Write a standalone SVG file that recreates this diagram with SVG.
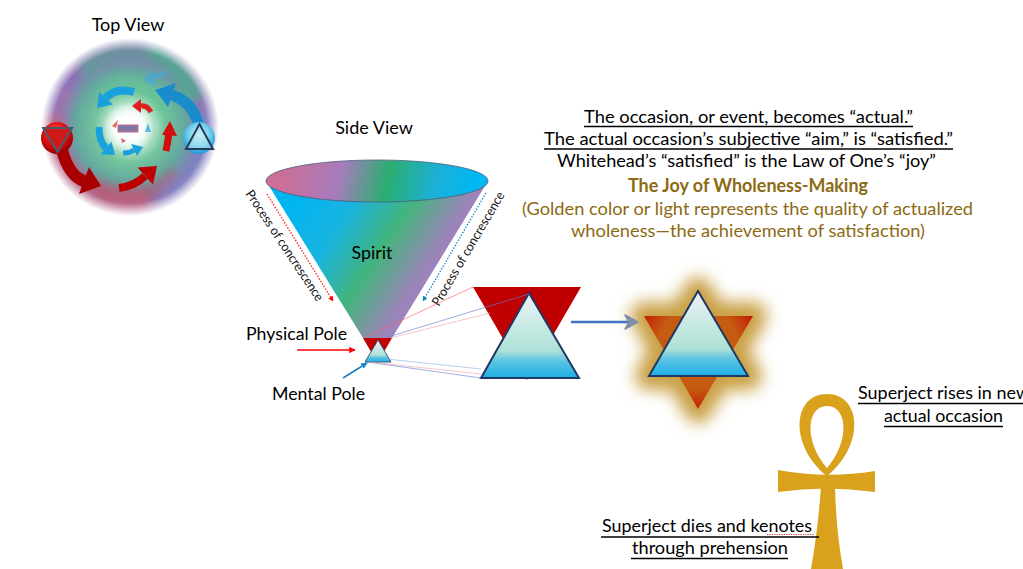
<svg xmlns="http://www.w3.org/2000/svg" width="1023" height="569" viewBox="0 0 1023 569">
<style>
.t{font-family:Lato,"Open Sans","Liberation Sans",sans-serif;font-size:18px;fill:#000}
.c{text-anchor:middle}
.g{fill:#8C6A12}
.ul{stroke:#000;stroke-width:1.4}
.pc{font-family:Lato,"Open Sans","Liberation Sans",sans-serif;font-size:13px;fill:#111;text-anchor:middle}
.bl{fill:#1a8ccc}
.rd{fill:#a80000}
</style>
<defs>
<radialGradient id="disk" cx="0.5" cy="0.5" r="0.5">
<stop offset="0" stop-color="#ffffff"/>
<stop offset="0.18" stop-color="#d8f4e4"/>
<stop offset="0.4" stop-color="#72c49c"/>
<stop offset="0.62" stop-color="#64a8a0"/>
<stop offset="0.82" stop-color="#8a76b4"/>
<stop offset="1" stop-color="#a48fc6"/>
</radialGradient>
<radialGradient id="mgrad" cx="0.5" cy="0.5" r="0.5">
<stop offset="0" stop-color="#fff"/>
<stop offset="0.86" stop-color="#fff"/>
<stop offset="1" stop-color="#000"/>
</radialGradient>
<mask id="dm" maskUnits="userSpaceOnUse" x="30" y="27" width="200" height="200"><circle cx="130" cy="127" r="89" fill="url(#mgrad)"/></mask>
<radialGradient id="glowc" cx="0.5" cy="0.5" r="0.5">
<stop offset="0" stop-color="#fff"/>
<stop offset="0.45" stop-color="#fff" stop-opacity="0.95"/>
<stop offset="1" stop-color="#fff" stop-opacity="0"/>
</radialGradient>
<radialGradient id="redball" cx="0.45" cy="0.35" r="0.6">
<stop offset="0" stop-color="#ff6060"/>
<stop offset="0.6" stop-color="#e01010"/>
<stop offset="1" stop-color="#a00000"/>
</radialGradient>
<radialGradient id="blueball" cx="0.5" cy="0.4" r="0.6">
<stop offset="0" stop-color="#d8f6fa"/>
<stop offset="0.6" stop-color="#6ccbea"/>
<stop offset="1" stop-color="#1a9ad8"/>
</radialGradient>
<linearGradient id="cone" gradientUnits="userSpaceOnUse" x1="290" y1="205" x2="445" y2="305">
<stop offset="0" stop-color="#00b4f2"/>
<stop offset="0.28" stop-color="#18b4e0"/>
<stop offset="0.55" stop-color="#44b47c"/>
<stop offset="0.8" stop-color="#9a84b8"/>
<stop offset="1" stop-color="#a884cc"/>
</linearGradient>
<linearGradient id="top" gradientUnits="userSpaceOnUse" x1="285" y1="160" x2="470" y2="205">
<stop offset="0" stop-color="#cc6e96"/>
<stop offset="0.3" stop-color="#a67cbc"/>
<stop offset="0.55" stop-color="#2aae70"/>
<stop offset="0.8" stop-color="#1cb0d8"/>
<stop offset="1" stop-color="#00b8f2"/>
</linearGradient>
<linearGradient id="tri" x1="0" y1="0" x2="0" y2="1">
<stop offset="0" stop-color="#eef2fa"/>
<stop offset="0.45" stop-color="#c2e8e0"/>
<stop offset="0.68" stop-color="#aee2d8"/>
<stop offset="0.8" stop-color="#5cc4e2"/>
<stop offset="1" stop-color="#1eb0e6"/>
</linearGradient>
<radialGradient id="starred" gradientUnits="userSpaceOnUse" cx="698" cy="348" r="68">
<stop offset="0" stop-color="#c86010"/>
<stop offset="0.6" stop-color="#c55a11"/>
<stop offset="0.85" stop-color="#c42a08"/>
<stop offset="1" stop-color="#c00000"/>
</radialGradient>
<filter id="blur8" x="-50%" y="-50%" width="200%" height="200%"><feGaussianBlur stdDeviation="8"/></filter>
<filter id="blur4" x="-50%" y="-50%" width="200%" height="200%"><feGaussianBlur stdDeviation="4"/></filter>
<marker id="ar" viewBox="0 0 10 10" refX="9" refY="5" markerWidth="4" markerHeight="4" orient="auto"><path d="M0,0 L10,5 L0,10 Z" fill="#ff0000"/></marker>
<marker id="ab" viewBox="0 0 10 10" refX="9" refY="5" markerWidth="4" markerHeight="4" orient="auto"><path d="M0,0 L10,5 L0,10 Z" fill="#1a88c8"/></marker>
</defs>
<rect width="1023" height="569" fill="#fff"/>

<g id="top-view">
<text class="t c" x="128" y="31">Top View</text>
<g mask="url(#dm)">
<circle cx="130" cy="127" r="89" fill="url(#disk)"/>
<g filter="url(#blur4)" fill="none">
<path d="M52,115 A78,78 0 0,0 150,202" stroke="#d06070" stroke-width="26" opacity="0.6"/>
<path d="M92,182 A62,62 0 0,0 176,172" stroke="#c04a5a" stroke-width="14" opacity="0.45"/>
<path d="M80,70 A66,66 0 0,1 194,100" stroke="#3cbc84" stroke-width="18" opacity="0.65"/>
<path d="M202,112 A74,74 0 0,1 165,194" stroke="#7090d0" stroke-width="16" opacity="0.5"/>
<path d="M58,88 A78,78 0 0,1 150,48" stroke="#8a64b0" stroke-width="14" opacity="0.55"/>
<path d="M100,95 A38,38 0 0,1 165,115" stroke="#60c890" stroke-width="12" opacity="0.45"/>
<path d="M60,140 A72,72 0 0,1 70,90" stroke="#b070a8" stroke-width="14" opacity="0.45"/>
</g>
</g>
<circle cx="128" cy="128" r="26" fill="url(#glowc)"/>
<rect x="118" y="125" width="20" height="7" fill="#7f78a8" stroke="#c86a8a" stroke-width="1"/>
<!-- blue arrows -->
<path d="M199,126 Q193,102 172,95" fill="none" stroke="#1a8ccc" stroke-width="11"/>
<polygon class="bl" points="176,83 168,107 155,90"/>
<path d="M166,73 L153,77" stroke="#4aa8d8" stroke-width="5" opacity="0.7"/>
<polygon points="143,80 153,69 156,87" fill="#4aa8d8" opacity="0.7"/>
<path d="M134,92 Q115,87 106,98" fill="none" stroke="#1aa0dc" stroke-width="8"/>
<polygon points="113,104.5 99,92 97,108" fill="#1aa0dc"/>
<path d="M99,127 Q99,142 106,148" fill="none" stroke="#1aa0dc" stroke-width="7"/>
<polygon points="100.5,154.3 111.5,141.7 115,155" fill="#1aa0dc"/>
<path d="M123,153 Q130,153 134,150" fill="none" stroke="#1aa0dc" stroke-width="5"/>
<polygon points="131,144 137,156 143,147" fill="#1aa0dc"/>
<polygon points="145,132 151,132 148,123" fill="#5ab8e0"/>
<!-- red arrows -->
<path d="M62,150 Q69,176 84,181" fill="none" stroke="#a80000" stroke-width="12"/>
<polygon class="rd" points="79,194 89,167 101,186"/>
<path d="M119,188 Q135,186 145,176" fill="none" stroke="#c00000" stroke-width="8"/>
<polygon points="153,184.5 137.5,167.5 157,166" fill="#c00000"/>
<path d="M166,151 Q168,141 169,133" fill="none" stroke="#d01010" stroke-width="7"/>
<polygon points="162,135 177,136 170,121" fill="#d01010"/>
<path d="M151,112 Q147,105 141,106" fill="none" stroke="#e02020" stroke-width="5"/>
<polygon points="141,99 141,113 132,106" fill="#e02020"/>
<polygon points="112,126 118,120 116,128" fill="#e04040" opacity="0.8"/>
<polygon points="121,138 126,141 122,143" fill="#e04040" opacity="0.8"/>
<!-- poles -->
<circle cx="57" cy="138" r="16" fill="url(#redball)"/>
<polygon points="43,128 72,128 57.5,152" fill="#d01818" stroke="#4a5a6a" stroke-width="2"/>
<circle cx="199" cy="138" r="16" fill="url(#blueball)"/>
<polygon points="186,149 213,149 199.5,124" fill="#b8e8f2" fill-opacity="0.5" stroke="#243a5a" stroke-width="2"/>
</g>

<g id="side-view">
<text class="t c" x="374" y="134">Side View</text>
<polygon points="266,181 488,181 392,338 363,338" fill="url(#cone)"/>
<ellipse cx="377" cy="181" rx="111" ry="21" fill="url(#top)" stroke="#4a5a7a" stroke-width="0.8"/>
<text class="t c" x="372" y="259" textLength="41" lengthAdjust="spacingAndGlyphs">Spirit</text>
<text class="pc" transform="translate(281,248) rotate(56.5)" textLength="130" lengthAdjust="spacingAndGlyphs">Process of concrescence</text>
<text class="pc" transform="translate(472,251) rotate(-59.5)" textLength="130" lengthAdjust="spacingAndGlyphs">Process of concrescence</text>
</g>

<g id="small-triangles">
<polygon points="363,338 392,338 377.5,363" fill="#c00000"/>
<polygon points="365,362 391,362 378,340" fill="url(#tri)" stroke="#3a5a7a" stroke-width="1"/>
</g>

<g id="pole-labels">
<text class="t" x="246" y="340" textLength="101" lengthAdjust="spacingAndGlyphs">Physical Pole</text>
<text class="t" x="272" y="400" textLength="93" lengthAdjust="spacingAndGlyphs">Mental Pole</text>
</g>

<g id="big-triangles">
<polygon points="473,287 581,287 527,380" fill="#c00000"/>
<polygon points="481,378 579,378 529,293" fill="url(#tri)" stroke="#1f3864" stroke-width="2"/>
</g>

<g id="star">
<g filter="url(#blur8)" fill="#c9a045" stroke="#c9a045" stroke-width="28" stroke-linejoin="round">
<polygon points="644,316 753,316 698,409"/>
<polygon points="649,376 748,376 698,291"/>
</g>
<polygon points="644,316 753,316 698,409" fill="url(#starred)"/>
<polygon points="649,376 748,376 698,291" fill="url(#tri)" stroke="#1f3864" stroke-width="2"/>
</g>

<g id="ankh">
<path fill="#D9A11C" fill-rule="evenodd" d="M827,476 C789,446 792,394 827,394 C862,394 865,446 827,476 Z M827,468 C804,442 806,406 827,406 C848,406 850,442 827,468 Z"/>
<path fill="#D9A11C" d="M778,470 Q826,479 875,471 L875,492 Q826,485 778,492 Z"/>
<path fill="#D9A11C" d="M821,486 L835,486 Q836,530 843,569 L811,569 Q818,530 821,486 Z"/>
</g>

<g id="connectors" fill="none">
<line x1="267" y1="194" x2="333" y2="301" stroke="#ff2020" stroke-width="1.3" stroke-dasharray="1.5,1.5" marker-end="url(#ar)"/>
<line x1="486" y1="193" x2="423" y2="301" stroke="#1a88c8" stroke-width="1.3" stroke-dasharray="1.5,1.5" marker-end="url(#ab)"/>
<line x1="297" y1="350" x2="355" y2="350" stroke="#ff0000" stroke-width="1.6" marker-end="url(#ar)"/>
<line x1="343" y1="378" x2="367" y2="363" stroke="#1a80c0" stroke-width="1.6" marker-end="url(#ab)"/>
<line x1="364" y1="338" x2="473" y2="287" stroke="#ff6060" stroke-width="0.8" opacity="0.8"/>
<line x1="390" y1="338" x2="490" y2="313" stroke="#f0a0a0" stroke-width="0.8" opacity="0.8"/>
<line x1="388" y1="337" x2="529" y2="294" stroke="#6080d0" stroke-width="0.8" opacity="0.8"/>
<line x1="367" y1="362" x2="481" y2="378" stroke="#6080d0" stroke-width="0.8" opacity="0.8"/>
<line x1="369" y1="362" x2="481" y2="374" stroke="#f0a0b0" stroke-width="0.8" opacity="0.8"/>
<line x1="387" y1="359" x2="481" y2="369" stroke="#90b0e0" stroke-width="0.8" opacity="0.8"/>
<line x1="571" y1="322" x2="630" y2="322" stroke="#4472c4" stroke-width="2.5"/>
<path d="M625,315 L638,322 L625,329 L629,322 Z" fill="#7f8fa8" stroke="#7f8fa8" stroke-width="1.5" stroke-linejoin="round"/>
</g>

<g id="caption">
<text class="t c" x="748.5" y="123" textLength="329" lengthAdjust="spacingAndGlyphs">The occasion, or event, becomes “actual.”</text>
<line class="ul" x1="584" y1="126.5" x2="913" y2="126.5"/>
<text class="t c" x="748.5" y="145" textLength="409" lengthAdjust="spacingAndGlyphs">The actual occasion’s subjective “aim,” is “satisfied.”</text>
<line class="ul" x1="544" y1="149" x2="953" y2="149"/>
<text class="t c" x="746.5" y="167" textLength="379" lengthAdjust="spacingAndGlyphs">Whitehead’s “satisfied” is the Law of One’s “joy”</text>
<text class="t c g" x="748" y="192" font-weight="bold" textLength="240" lengthAdjust="spacingAndGlyphs">The Joy of Wholeness-Making</text>
<text class="t c g" x="747.5" y="215" textLength="451" lengthAdjust="spacingAndGlyphs">(Golden color or light represents the quality of actualized</text>
<text class="t c g" x="748" y="237" textLength="354" lengthAdjust="spacingAndGlyphs">wholeness—the achievement of satisfaction)</text>
</g>

<g id="superject-rises">
<text class="t" x="858" y="399" textLength="172" lengthAdjust="spacingAndGlyphs">Superject rises in new</text>
<line class="ul" x1="858" y1="403.5" x2="1023" y2="403.5"/>
<text class="t c" x="943.5" y="422" textLength="119" lengthAdjust="spacingAndGlyphs">actual occasion</text>
<line class="ul" x1="884" y1="426.5" x2="1003" y2="426.5"/>
</g>

<g id="superject-dies">
<text class="t" x="602" y="532" textLength="210" lengthAdjust="spacingAndGlyphs">Superject dies and kenotes</text>
<line x1="767" y1="534.5" x2="814" y2="534.5" stroke="#e02020" stroke-width="0.9" stroke-dasharray="1.2,1.2"/>
<line class="ul" x1="601" y1="537" x2="819" y2="537"/>
<text class="t" x="632" y="554" textLength="156" lengthAdjust="spacingAndGlyphs">through prehension</text>
<line class="ul" x1="631" y1="558.5" x2="788" y2="558.5"/>
</g>
</svg>
